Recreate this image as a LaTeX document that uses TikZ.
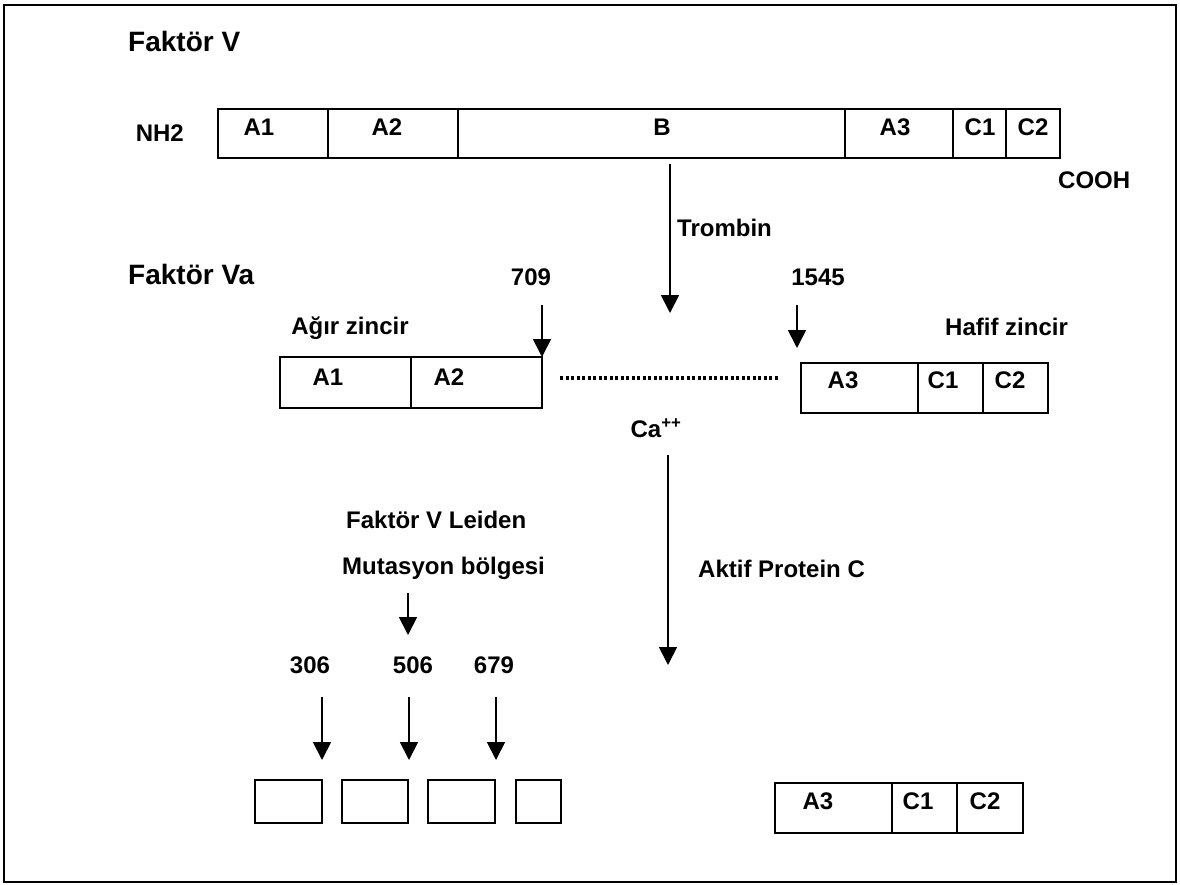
\documentclass[tikz,border=0pt]{standalone}
\usepackage{fontspec}
\setmainfont{Liberation Sans}
\usetikzlibrary{arrows.meta}
\begin{document}
\begin{tikzpicture}[x=1pt,y=-1pt,
	seg/.style={draw,line width=1.6pt,inner sep=0pt,outer sep=0pt},
	lbl/.style={font=\bfseries\fontsize{24}{28}\selectfont,inner sep=0pt},
	ttl/.style={font=\bfseries\fontsize{28}{32}\selectfont,inner sep=0pt,anchor=west},
	cut/.style={line width=1.8pt,-{Triangle[length=18pt,width=18pt]}},
	dots/.style={line width=4pt,dash pattern=on 3pt off 2.5pt}]
	\useasboundingbox (0,0) rectangle (1180,885);
	\draw[line width=2.8pt] (4,5) rectangle (1176,882);
	% Faktor V
	\node[ttl] (tV) at (128,41) {Faktör V};
	\node[lbl,anchor=east] (nh) at (184,133) {NH2};
	\foreach \n/\a/\b in {fA1/218/328,fA2/328/458,fB/458/845,fA3/845/953,fC1/953/1006,fC2/1006/1060} \node[seg,minimum width={\b-\a},minimum height=49] (\n) at ({(\a+\b)/2},133.5) {};
	\foreach \n/\x/\t in {tA1/259/A1,tA2/387/A2,tB/662/B,tA3/895/A3,tC1/980/C1,tC2/1033/C2} \node[lbl] (\n) at (\x,127) {\t};
	\node[lbl,anchor=west] (cooh) at (1058,180) {COOH};
	\coordinate (tr1) at (670,164);
	\coordinate (tr2) at (670,313);
	\draw[cut] (tr1) -- (tr2);
	\node[lbl,anchor=west] (trb) at (677,228) {Trombin};
	% Faktor Va
	\node[ttl] (tVa) at (128,274) {Faktör Va};
	\node[lbl] (n709) at (531,277) {709};
	\node[lbl] (n1545) at (818,277) {1545};
	\node[lbl] (agir) at (350,328) {Ağır zincir};
	\node[lbl,anchor=west] (hafif) at (945,327) {Hafif zincir};
	\foreach \n/\a/\b in {hA1/280/411,hA2/411/542} \node[seg,minimum width={\b-\a},minimum height=51] (\n) at ({(\a+\b)/2},382.5) {};
	\foreach \n/\a/\b in {lA3/801/918,lC1/918/983,lC2/983/1048} \node[seg,minimum width={\b-\a},minimum height=50] (\n) at ({(\a+\b)/2},388) {};
	\foreach \n/\x/\t in {uA1/328/A1,uA2/449/A2} \node[lbl] (\n) at (\x,377) {\t};
	\foreach \n/\x/\t in {vA3/843/A3,vC1/943/C1,vC2/1010/C2} \node[lbl] (\n) at (\x,380) {\t};
	\coordinate (c709) at (542,305);
	\draw[cut] (c709) -- (hA2.north east);
	\coordinate (c1545) at (797,305);
	\coordinate (e1545) at (797,348);
	\draw[cut] (c1545) -- (e1545);
	\coordinate (d1) at (560,378);
	\coordinate (d2) at (778,378);
	\draw[dots] (d1) -- (d2);
	\node[lbl] (ca) at (656,428) {Ca\textsuperscript{++}};
	% Aktif Protein C
	\coordinate (ap1) at (668,455);
	\coordinate (ap2) at (668,665);
	\draw[cut] (ap1) -- (ap2);
	\node[lbl,anchor=west] (apc) at (698,569) {Aktif Protein C};
	\node[lbl,anchor=west] (fvl) at (346,520) {Faktör V Leiden};
	\node[lbl,anchor=west] (mut) at (342,568) {Mutasyon bölgesi};
	\coordinate (m1) at (408,593);
	\coordinate (m2) at (408,635);
	\draw[cut] (m1) -- (m2);
	\foreach \n/\x/\t in {n306/310/306,n506/413/506,n679/494/679} \node[lbl] (\n) at (\x,665) {\t};
	\foreach \x [count=\i] in {322,409,496} {
		\coordinate (k\i) at (\x,697);
		\coordinate (e\i) at (\x,760);
		\draw[cut] (k\i) -- (e\i);
	}
	\foreach \n/\a/\b in {p1/255/322,p2/342/408,p3/428/495,p4/516/561} \node[seg,minimum width={\b-\a},minimum height=43] (\n) at ({(\a+\b)/2},801.5) {};
	\foreach \n/\a/\b in {bA3/775/892,bC1/892/957,bC2/957/1023} \node[seg,minimum width={\b-\a},minimum height=50] (\n) at ({(\a+\b)/2},808) {};
	\foreach \n/\x/\t in {wA3/818/A3,wC1/918/C1,wC2/985/C2} \node[lbl] (\n) at (\x,801) {\t};
\end{tikzpicture}
\end{document}
